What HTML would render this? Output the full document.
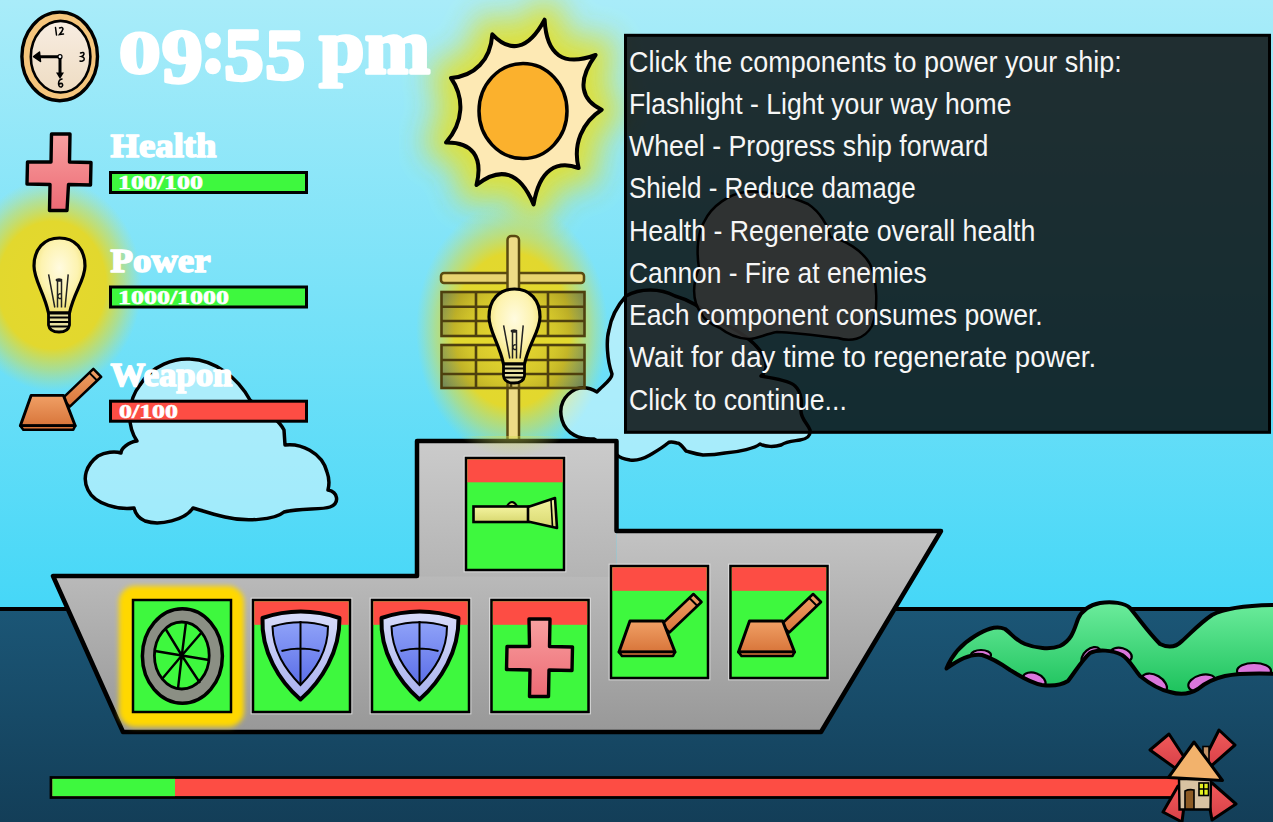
<!DOCTYPE html>
<html><head><meta charset="utf-8">
<style>
html,body{margin:0;padding:0;width:1273px;height:822px;overflow:hidden;background:#45d7f7;}
svg{display:block;}
.ser{font-family:"Liberation Serif",serif;font-weight:bold;}
.san{font-family:"Liberation Sans",sans-serif;}
</style></head><body>
<svg width="1273" height="822" viewBox="0 0 1273 822">
<defs>
<linearGradient id="sky" x1="0" y1="0" x2="0" y2="1">
<stop offset="0" stop-color="#a9ecf9"/><stop offset="1" stop-color="#45d7f7"/>
</linearGradient>
<linearGradient id="sea" x1="0" y1="0" x2="0" y2="1">
<stop offset="0" stop-color="#1b5676"/><stop offset="1" stop-color="#133e58"/>
</linearGradient>
<radialGradient id="glowS" cx="0.5" cy="0.5" r="0.5">
<stop offset="0" stop-color="#e6e030" stop-opacity="1"/><stop offset="0.68" stop-color="#dfe038" stop-opacity="0.9"/><stop offset="0.84" stop-color="#cce068" stop-opacity="0.45"/><stop offset="1" stop-color="#c8e070" stop-opacity="0"/>
</radialGradient>
<radialGradient id="glowB" cx="0.5" cy="0.5" r="0.5">
<stop offset="0" stop-color="#e6d82c" stop-opacity="1"/><stop offset="0.6" stop-color="#e2d82e" stop-opacity="1"/><stop offset="0.8" stop-color="#d4dc48" stop-opacity="0.55"/><stop offset="1" stop-color="#c8e070" stop-opacity="0"/>
</radialGradient>
<linearGradient id="hull" gradientUnits="userSpaceOnUse" x1="0" y1="531" x2="0" y2="732">
<stop offset="0" stop-color="#c3c3c3"/><stop offset="1" stop-color="#989898"/>
</linearGradient>
<linearGradient id="sup" gradientUnits="userSpaceOnUse" x1="0" y1="441" x2="0" y2="577">
<stop offset="0" stop-color="#cbcbcb"/><stop offset="1" stop-color="#b4b4b4"/>
</linearGradient>
<linearGradient id="cloudg" x1="0" y1="0" x2="1" y2="1">
<stop offset="0" stop-color="#b2eefa"/><stop offset="1" stop-color="#8fe4f7"/>
</linearGradient>
<filter id="blur3" x="-20%" y="-20%" width="140%" height="140%"><feGaussianBlur stdDeviation="2.5"/></filter>
<radialGradient id="bulbg" cx="0.5" cy="0.4" r="0.6">
<stop offset="0" stop-color="#fffbe0"/><stop offset="0.6" stop-color="#fdf3b0"/><stop offset="1" stop-color="#f0e070"/>
</radialGradient>
<linearGradient id="shieldrim" x1="0" y1="0" x2="0" y2="1"><stop offset="0" stop-color="#d8dcfa"/><stop offset="1" stop-color="#a8b0ee"/></linearGradient>
<linearGradient id="shieldin" x1="0" y1="0" x2="0" y2="1"><stop offset="0" stop-color="#8fa2f8"/><stop offset="1" stop-color="#5b6ee8"/></linearGradient>
<linearGradient id="crossg" x1="0" y1="0" x2="0" y2="1"><stop offset="0" stop-color="#f8a0a0"/><stop offset="1" stop-color="#ec6a74"/></linearGradient>
<linearGradient id="cannong" x1="0" y1="0" x2="0" y2="1"><stop offset="0" stop-color="#f0a066"/><stop offset="1" stop-color="#d8753a"/></linearGradient>
<linearGradient id="flashg" x1="0" y1="0" x2="0" y2="1"><stop offset="0" stop-color="#f4f4a0"/><stop offset="1" stop-color="#d8d870"/></linearGradient>
<g id="bulb">
<path d="M26.5,1 C42,1 52,12 52,29 C52,43 41,55 36.5,76 L15.5,76 C11,55 1,43 1,29 C1,12 11,1 26.5,1 Z" fill="url(#bulbg)" stroke="#000" stroke-width="3.2"/>
<path d="M15.6,37.4 L21.8,70.5 M35.2,37.4 L32.1,70.5 M24.5,44 L24.5,70.5 M28.5,44 L28.5,70.5" stroke="#222" stroke-width="1.5" fill="none"/>
<ellipse cx="26" cy="43" rx="3.4" ry="1.8" fill="#222"/>
<path d="M28,57 a2.2,2.4 0 1 0 0.5,4" stroke="#222" stroke-width="1.3" fill="none"/>
<path d="M15.5,76 L15.5,88 Q16.5,95 26,95 Q35.5,95 36.5,88 L36.5,76 Z" fill="#e8e0a0" stroke="#000" stroke-width="2.8"/>
<path d="M15.5,80.5 H36.5 M15.5,85 H36.5 M16.5,89.5 H35.5" stroke="#000" stroke-width="1.8"/>
</g>
<g id="shield">
<path d="M10.5,19 Q48.5,6 87.5,19 C88,52 70,82 48.5,100.5 C27,82 9,52 10.5,19 Z" fill="url(#shieldrim)" stroke="#000" stroke-width="4" stroke-linejoin="round"/>
<path d="M20.5,27.5 Q48.5,19 76,27.5 C76,52 64,70 48.5,86 C33,70 21,52 20.5,27.5 Z" fill="url(#shieldin)" stroke="#000" stroke-width="2"/>
<path d="M48.5,22 V85 M29.5,52 Q48.5,47 67.5,52" stroke="#000" stroke-width="2" fill="none"/>
</g>
<g id="cannon">
<path d="M50.5,33.5 L82.5,3 L90.5,11 L58.5,41.5 Z" fill="url(#cannong)" stroke="#000" stroke-width="2.6" stroke-linejoin="round"/>
<path d="M78.5,7 L86.5,15" stroke="#000" stroke-width="2"/>
<path d="M19,30 L52,30 L64,61 L8,61 Z" fill="url(#cannong)" stroke="#000" stroke-width="3" stroke-linejoin="round"/>
<path d="M8,61 L64,61 L62,65 L11,65 Z" fill="#d8753a" stroke="#000" stroke-width="2.6" stroke-linejoin="round"/>
</g>
<linearGradient id="tentg" x1="0" y1="0" x2="0" y2="1"><stop offset="0" stop-color="#6cec9c"/><stop offset="1" stop-color="#1cc25c"/></linearGradient>
<linearGradient id="sailg" x1="0" y1="0" x2="0" y2="1"><stop offset="0" stop-color="#f05a5a"/><stop offset="1" stop-color="#d84048"/></linearGradient>
<filter id="blurS" x="-30%" y="-30%" width="160%" height="160%"><feGaussianBlur stdDeviation="15"/></filter>
<radialGradient id="panelg" gradientUnits="userSpaceOnUse" cx="512" cy="338" r="90">
<stop offset="0" stop-color="#f0d840" stop-opacity="0.1"/><stop offset="0.5" stop-color="#a08a20" stop-opacity="0.25"/><stop offset="1" stop-color="#4a3c14" stop-opacity="0.62"/></radialGradient>
<linearGradient id="faceg" x1="0" y1="0" x2="0" y2="1"><stop offset="0" stop-color="#f8ede2"/><stop offset="1" stop-color="#eedcc2"/></linearGradient>
</defs>

<!-- background -->
<rect x="0" y="0" width="1273" height="610" fill="url(#sky)"/>
<rect x="0" y="609" width="1273" height="213" fill="url(#sea)"/>
<line x1="0" y1="609" x2="1273" y2="609" stroke="#000" stroke-width="4"/>

<!-- glows -->
<path d="M544.6,19.7 C546.5,55.8 563.6,66.8 595.6,55.0 C575.7,82.4 582.1,100.5 601.7,109.7 C582.0,122.2 572.7,144.6 578.6,168.0 C557.3,160.2 539.5,168.7 533.6,204.5 C519.7,170.9 500.0,166.4 476.5,185.0 C483.6,156.3 471.7,142.0 446.0,142.5 C464.0,122.0 464.5,97.6 451.0,78.0 C474.2,76.1 490.6,60.5 492.3,34.3 C509.5,52.5 527.7,51.2 544.6,19.7Z" fill="#e0e034" stroke="#e0e034" stroke-width="40" stroke-linejoin="round" filter="url(#blurS)" opacity="0.95"/>

<!-- glows2 -->
<ellipse cx="512" cy="330" rx="96" ry="128" fill="url(#glowB)"/>
<ellipse cx="52" cy="285" rx="90" ry="106" fill="url(#glowB)"/>
<!-- clouds -->
<path d="M137,441 C126,425 128,400 140,385 C152,365 175,358 190,359 C215,360 238,378 250,400 C262,410 278,418 284,430 L285,445 C300,443 322,452 327,472 C330,480 329,486 328,490 C338,492 340,503 330,507 C322,510 300,508 284,512 C275,520 245,522 225,517 C212,514 200,510 193,508 C185,520 160,526 145,521 C138,518 135,512 134,508 C120,510 95,505 88,490 C82,478 86,465 98,456 C105,452 115,451 121,453 C121,449 128,442 137,441 Z" fill="#fff" fill-opacity="0.45" stroke="#000" stroke-width="3.5" stroke-linejoin="round"/>
<path id="cl2" d="M594,439 C580,440 566,434 562,420 C558,406 564,395 576,389 C585,386 592,389 597,392 C602,386 612,380 612,374 C607,360 606,340 609,330 C611,318 618,305 626,296 C640,288 660,288 675,296 C690,300 705,310 715,320 C740,330 760,345 765,360 C768,368 764,374 761,376 C770,378 790,380 795,386 C802,392 802,405 801,410 C800,418 808,424 810,430 C811,437 806,439 800,440 C795,441 787,441 781,445 C775,447 765,447 760,444 C755,448 740,452 725,453 C715,455 708,455 703,455 C695,454 690,452 686,451 C682,446 680,443 677,443 C673,442 670,441 668,443 C662,448 655,452 650,455 C643,459 637,461 630,460 C624,459 620,458 617,455 L594,439 Z" fill="#fff" fill-opacity="0.45" stroke="#000" stroke-width="3.5" stroke-linejoin="round"/>
<path d="M699,268 C696,250 698,232 704,222 C712,205 730,194 745,192 C765,190 790,196 808,204 C820,212 828,225 830,237 C845,240 862,250 870,264 C878,282 878,310 872,326 C864,340 850,342 838,338 C820,336 800,333 777,332 C765,334 755,340 748,339 C735,338 725,332 720,328 C710,324 703,318 702,314 C690,300 694,280 699,268 Z" fill="#fff" fill-opacity="0.85" stroke="#000" stroke-width="2.5" stroke-linejoin="round"/>

<!-- sun -->
<path d="M544.6,19.7 C546.5,55.8 563.6,66.8 595.6,55.0 C575.7,82.4 582.1,100.5 601.7,109.7 C582.0,122.2 572.7,144.6 578.6,168.0 C557.3,160.2 539.5,168.7 533.6,204.5 C519.7,170.9 500.0,166.4 476.5,185.0 C483.6,156.3 471.7,142.0 446.0,142.5 C464.0,122.0 464.5,97.6 451.0,78.0 C474.2,76.1 490.6,60.5 492.3,34.3 C509.5,52.5 527.7,51.2 544.6,19.7Z" fill="#fde9b4" stroke="#000" stroke-width="4" stroke-linejoin="round"/>
<ellipse cx="523" cy="111" rx="44" ry="47.5" fill="#fbb12d" stroke="#000" stroke-width="3.5"/>

<!-- panel -->
<rect x="625.5" y="35.3" width="644" height="397" fill="#000" fill-opacity="0.805" stroke="#000" stroke-width="3"/>
<g class="san" fill="#f6f6f6" font-size="29">
<text x="629" y="71.5" textLength="492.7" lengthAdjust="spacingAndGlyphs">Click the components to power your ship:</text>
<text x="629" y="113.7" textLength="382.5" lengthAdjust="spacingAndGlyphs">Flashlight - Light your way home</text>
<text x="629" y="156" textLength="359.4" lengthAdjust="spacingAndGlyphs">Wheel - Progress ship forward</text>
<text x="629" y="198.2" textLength="286.7" lengthAdjust="spacingAndGlyphs">Shield - Reduce damage</text>
<text x="629" y="240.5" textLength="406.3" lengthAdjust="spacingAndGlyphs">Health - Regenerate overall health</text>
<text x="629" y="282.7" textLength="297.6" lengthAdjust="spacingAndGlyphs">Cannon - Fire at enemies</text>
<text x="629" y="325" textLength="413.7" lengthAdjust="spacingAndGlyphs">Each component consumes power.</text>
<text x="629" y="367.2" textLength="467.2" lengthAdjust="spacingAndGlyphs">Wait for day time to regenerate power.</text>
<text x="629" y="409.5" textLength="217.8" lengthAdjust="spacingAndGlyphs">Click to continue...</text>
</g>
<!-- mast & panels -->
<rect x="441" y="273" width="143" height="10" rx="3" fill="#e8d470" stroke="#5a4a10" stroke-width="2.5"/>
<rect x="507.5" y="236" width="11.5" height="208" rx="4" fill="#eedc86" stroke="#5a4a10" stroke-width="2.5"/>
<g stroke="#4e400e" stroke-width="2.6">
<rect x="441.5" y="292" width="143" height="44" fill="url(#panelg)"/>
<rect x="441.5" y="345" width="143" height="43" fill="url(#panelg)"/>
<path d="M476,292V336M511,292V336M548,292V336M441.5,306.7H584.5M441.5,321H584.5M476,345V388M511,345V388M548,345V388M441.5,360H584.5M441.5,374H584.5" fill="none"/>
</g>
<!-- ship body -->
<polygon points="417,441 616.5,441 616.5,577 417,577" fill="url(#sup)"/>
<polygon points="53,576 616.5,577 616.5,531 941,531 821,732 123,732" fill="url(#hull)"/>
<path d="M53,576 L417,576 L417,441 L616.5,441 L616.5,531 L941,531 L821,732 L123,732 Z" fill="none" stroke="#000" stroke-width="4.5" stroke-linejoin="round"/>
<clipPath id="shiptop"><rect x="400" y="436" width="230" height="40"/></clipPath>
<ellipse cx="512" cy="330" rx="96" ry="128" fill="url(#glowB)" clip-path="url(#shiptop)"/>
<!-- wheel glow -->
<rect x="119" y="586" width="125" height="141" rx="16" fill="#ffd800" filter="url(#blur3)"/>
<!-- boxes -->
<g fill="none" stroke="#e4e4e4" stroke-width="1.2" opacity="0.8">
<rect x="464.2" y="456.2" width="101.6" height="115.6"/>
<rect x="251.2" y="598.2" width="100.6" height="115.6"/>
<rect x="370.2" y="598.2" width="100.6" height="115.6"/>
<rect x="489.7" y="598.2" width="100.6" height="115.6"/>
<rect x="609.2" y="564.2" width="100.6" height="115.6"/>
<rect x="728.7" y="564.2" width="100.6" height="115.6"/>
</g>
<g stroke="#000" stroke-width="2.5">
<rect x="466" y="458" width="98" height="112" fill="#3ef83e"/>
<rect x="133" y="600" width="98" height="112" fill="#3ef83e"/>
<rect x="253" y="600" width="97" height="112" fill="#3ef83e"/>
<rect x="372" y="600" width="97" height="112" fill="#3ef83e"/>
<rect x="491.5" y="600" width="97" height="112" fill="#3ef83e"/>
<rect x="611" y="566" width="97" height="112" fill="#3ef83e"/>
<rect x="730.5" y="566" width="97" height="112" fill="#3ef83e"/>
</g>
<g fill="#fd4d44">
<rect x="467.3" y="459.3" width="95.4" height="23"/>
<rect x="254.3" y="601.3" width="94.4" height="23.5"/>
<rect x="373.3" y="601.3" width="94.4" height="23.5"/>
<rect x="492.8" y="601.3" width="94.4" height="23.5"/>
<rect x="612.3" y="567.3" width="94.4" height="23.5"/>
<rect x="731.8" y="567.3" width="94.4" height="23.5"/>
</g>
<use href="#bulb" x="488" y="288"/>
<!-- flashlight -->
<path d="M507,506 Q512,498 517,506 Z" fill="#d8d870" stroke="#000" stroke-width="2"/>
<rect x="473.5" y="506.5" width="55" height="15.5" fill="url(#flashg)" stroke="#000" stroke-width="2.6"/>
<path d="M528,507 L555,498 L557,528 L528,521.5 Z" fill="url(#flashg)" stroke="#000" stroke-width="2.6" stroke-linejoin="round"/>
<path d="M551,500 L552.5,527" stroke="#000" stroke-width="1.6"/>
<!-- wheel -->
<ellipse cx="182.4" cy="656" rx="40" ry="47.2" fill="#8b8f84" stroke="#000" stroke-width="3.5"/>
<ellipse cx="181.8" cy="655.5" rx="27.4" ry="33.5" fill="#3ef83e" stroke="#000" stroke-width="2.8"/>
<g stroke="#000" stroke-width="2.4"><path d="M181.8,655.5 L186,622.5 M181.8,655.5 L202,632 M181.8,655.5 L209,660 M181.8,655.5 L200,683 M181.8,655.5 L178,688.5 M181.8,655.5 L162,679 M181.8,655.5 L155,651 M181.8,655.5 L165,628"/></g>
<use href="#shield" x="252" y="599"/>
<use href="#shield" x="371" y="599"/>
<!-- health cross -->
<path d="M529,619 L550,619 L549.5,646.5 L572.5,647 L572,670.5 L549,670 L548.5,696.5 L529.5,696.5 L530,670 L506.5,669.5 L507,646.5 L529.5,646.5 Z" fill="url(#crossg)" stroke="#000" stroke-width="3.4" stroke-linejoin="round"/>
<use href="#cannon" x="611" y="591"/>
<use href="#cannon" x="730.5" y="591"/>
<!-- clock -->
<ellipse cx="59.7" cy="56.4" rx="37.8" ry="44.3" fill="#f5c57c" stroke="#000" stroke-width="3.4"/>
<ellipse cx="60.6" cy="56.7" rx="29.8" ry="35.8" fill="url(#faceg)" stroke="#000" stroke-width="2.6"/>
<g fill="none" stroke="#000" stroke-width="1.5" stroke-linecap="round">
<path d="M55.5,27.5 L56.5,35 M59.5,28 Q62.5,26.5 63,29 Q62.5,31 59.5,34.5 L63.5,34"/>
<path d="M80.5,53 Q84,51.5 84,54 Q83.5,56 81.5,56.5 Q85,57.5 84,60 Q82,62 80,61"/>
<path d="M62,79 Q58.5,79.5 58.5,84 Q59,87.5 61.5,87 Q63.5,85.5 62,83.5 Q60,83 58.8,84.5"/>
</g>
<path d="M60,56.7 H38 M60,56.7 V74" stroke="#000" stroke-width="3" fill="none"/>
<path d="M33.5,56.7 L39.5,52 L40.5,61.5 Z" fill="#000" stroke="#000" stroke-width="1.5" stroke-linejoin="round"/>
<path d="M60,79 L56,72.5 L64,72.5 Z" fill="#000"/>
<circle cx="60" cy="56.7" r="2" fill="#fff" stroke="#000" stroke-width="1.2"/>
<!-- time -->
<g class="ser" fill="#fff" stroke="#fff" stroke-linejoin="round">
<text transform="matrix(0.8333,0,0,0.6222,119.12,72.93)" font-size="100" stroke-width="4.81">0</text>
<text transform="matrix(0.8205,0,0,0.7627,161.80,81.89)" font-size="100" stroke-width="4.42">9</text>
<text transform="matrix(0.7636,0,0,0.7773,200.54,72.38)" font-size="100" stroke-width="4.54">:</text>
<text transform="matrix(0.7953,0,0,0.7353,223.97,79.71)" font-size="100" stroke-width="4.57">5</text>
<text transform="matrix(0.8047,0,0,0.7293,264.93,79.42)" font-size="100" stroke-width="4.56">5</text>
<text transform="matrix(0.8140,0,0,0.7401,319.23,71.34)" font-size="100" stroke-width="4.50">p</text>
<text transform="matrix(0.7848,0,0,0.7787,364.69,73.15)" font-size="100" stroke-width="4.48">m</text>
</g>
<!-- health icon -->
<path d="M51.5,134 L70,134 L69.5,162 L91,162.5 L90.5,185 L68.5,184.5 L67,210.5 L49.5,210.5 L50,184.5 L27,184 L27.5,162 L51,162 Z" fill="url(#crossg)" stroke="#000" stroke-width="3.4" stroke-linejoin="round"/>
<!-- bulb -->
<use href="#bulb" x="33" y="237"/>
<!-- cannon icon -->
<g transform="translate(12.5,366) scale(0.98)"><use href="#cannon"/></g>
<!-- labels -->
<g class="ser" fill="#fff" stroke="#fff" stroke-width="1.6" stroke-linejoin="round" font-size="33">
<text x="110.5" y="157" textLength="106" lengthAdjust="spacingAndGlyphs">Health</text>
<text x="110.5" y="271.5" textLength="100" lengthAdjust="spacingAndGlyphs">Power</text>
<text x="110.5" y="386" textLength="122" lengthAdjust="spacingAndGlyphs">Weapon</text>
</g>
<!-- bars -->
<g stroke="#000" stroke-width="3">
<rect x="110.5" y="172.5" width="196" height="20" fill="#3ef83e"/>
<rect x="110.5" y="287" width="196" height="20" fill="#3ef83e"/>
<rect x="110.5" y="401.2" width="196" height="20" fill="#fd4d44"/>
</g>
<g class="ser" fill="#fff" stroke="#fff" stroke-width="0.6" font-size="19">
<text x="118" y="189" textLength="85" lengthAdjust="spacingAndGlyphs">100/100</text>
<text x="118" y="303.5" textLength="111" lengthAdjust="spacingAndGlyphs">1000/1000</text>
<text x="119" y="418" textLength="59" lengthAdjust="spacingAndGlyphs">0/100</text>
</g>
<!-- tentacle -->
<clipPath id="tclip"><path d="M946.5,668.5 C952,655 960,645 975,636 C985,630 995,625 1005,629 C1012,634 1015,640 1025,644 C1035,648 1050,650 1060,646 C1072,640 1074,630 1078,619 C1082,610 1090,605 1100,603 C1112,601 1125,603 1130,608 C1140,620 1148,632 1160,644 C1168,648 1176,647 1182,641 C1192,632 1200,623 1212,615 C1225,608 1245,605 1280,605 L1280,674 C1255,673 1240,673 1225,676 C1212,679 1205,683 1198,689 C1190,694 1180,695 1170,692 C1160,690 1150,684 1140,676 C1133,668 1130,660 1122,655 C1112,650 1098,649 1090,653 C1082,660 1075,672 1068,681 C1060,686 1050,686 1042,685 C1030,683 1020,676 1010,670 C1000,663 992,658 982,655 C970,653 958,660 946.5,668.5 Z"/></clipPath>
<path d="M946.5,668.5 C952,655 960,645 975,636 C985,630 995,625 1005,629 C1012,634 1015,640 1025,644 C1035,648 1050,650 1060,646 C1072,640 1074,630 1078,619 C1082,610 1090,605 1100,603 C1112,601 1125,603 1130,608 C1140,620 1148,632 1160,644 C1168,648 1176,647 1182,641 C1192,632 1200,623 1212,615 C1225,608 1245,605 1280,605 L1280,674 C1255,673 1240,673 1225,676 C1212,679 1205,683 1198,689 C1190,694 1180,695 1170,692 C1160,690 1150,684 1140,676 C1133,668 1130,660 1122,655 C1112,650 1098,649 1090,653 C1082,660 1075,672 1068,681 C1060,686 1050,686 1042,685 C1030,683 1020,676 1010,670 C1000,663 992,658 982,655 C970,653 958,660 946.5,668.5 Z" fill="url(#tentg)"/>
<g fill="#da76dc" stroke="#000" stroke-width="2.2" clip-path="url(#tclip)">
<ellipse cx="981" cy="655" rx="10" ry="5"/>
<ellipse cx="1034" cy="681" rx="12" ry="8" transform="rotate(20 1034 681)"/>
<ellipse cx="1091" cy="656" rx="11" ry="7" transform="rotate(-40 1091 656)"/>
<ellipse cx="1121" cy="655" rx="11" ry="7" transform="rotate(15 1121 655)"/>
<ellipse cx="1154" cy="684" rx="14" ry="9" transform="rotate(30 1154 684)"/>
<ellipse cx="1202" cy="683" rx="14" ry="8" transform="rotate(-15 1202 683)"/>
<ellipse cx="1254" cy="671" rx="17" ry="8"/>
</g>
<path d="M946.5,668.5 C952,655 960,645 975,636 C985,630 995,625 1005,629 C1012,634 1015,640 1025,644 C1035,648 1050,650 1060,646 C1072,640 1074,630 1078,619 C1082,610 1090,605 1100,603 C1112,601 1125,603 1130,608 C1140,620 1148,632 1160,644 C1168,648 1176,647 1182,641 C1192,632 1200,623 1212,615 C1225,608 1245,605 1280,605 L1280,674 C1255,673 1240,673 1225,676 C1212,679 1205,683 1198,689 C1190,694 1180,695 1170,692 C1160,690 1150,684 1140,676 C1133,668 1130,660 1122,655 C1112,650 1098,649 1090,653 C1082,660 1075,672 1068,681 C1060,686 1050,686 1042,685 C1030,683 1020,676 1010,670 C1000,663 992,658 982,655 C970,653 958,660 946.5,668.5 Z" fill="none" stroke="#000" stroke-width="4" stroke-linejoin="round"/>
<!-- progress bar -->
<rect x="51" y="777.5" width="1130" height="20" fill="#fd4d44" stroke="#000" stroke-width="2.8"/>
<rect x="52.4" y="778.9" width="122.6" height="17.2" fill="#3ef83e"/>
<!-- windmill -->
<g stroke="#000" stroke-width="3" stroke-linejoin="round" fill="url(#sailg)">
<path d="M1150,750 L1169,734 L1186,760 L1175,768 Z"/>
<path d="M1219,730 L1235,745 L1210,767 L1204,760 Z"/>
<path d="M1236,804 L1212,820 L1206,787 L1212,783 Z"/>
<path d="M1163,812 L1182,822 L1186,790 L1178,786 Z"/>
</g>
<rect x="1203" y="746.5" width="6" height="16" fill="#c49468" stroke="#000" stroke-width="1.6"/>
<path d="M1179,779 L1211,779 L1210.5,809.5 L1179.5,809.5 Z" fill="#d8c2a2" stroke="#000" stroke-width="2.4"/>
<path d="M1185,791 Q1189,789 1194,790 L1194,809 L1185,809 Z" fill="#8c5a24" stroke="#000" stroke-width="1.6"/>
<rect x="1199" y="783" width="9.5" height="12.5" fill="#e4f020" stroke="#000" stroke-width="1.6"/>
<path d="M1203.7,783 V795.5 M1199,789 H1208.5" stroke="#000" stroke-width="1.4"/>
<path d="M1194,742 L1168.5,777.5 L1222.5,780.5 Z" fill="#f2b26c" stroke="#000" stroke-width="3" stroke-linejoin="round"/>

</svg>
</body></html>
